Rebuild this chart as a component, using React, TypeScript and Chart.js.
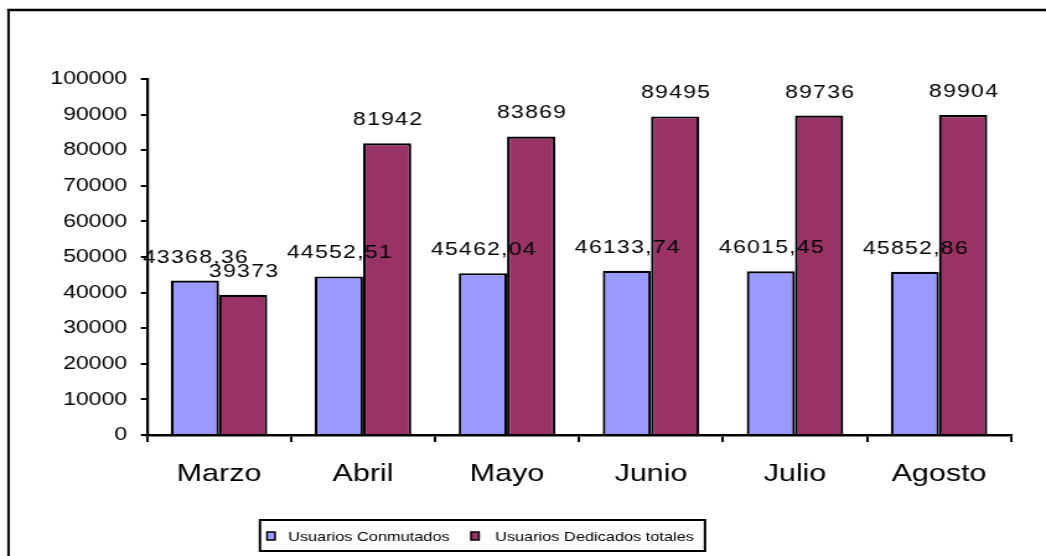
import React, { useEffect, useRef } from "react";
import { Chart, registerables } from "chart.js";

Chart.register(...registerables);

const categories = ["Marzo", "Abril", "Mayo", "Junio", "Julio", "Agosto"];
const conmutados = [43368.36, 44552.51, 45462.04, 46133.74, 46015.45, 45852.86];
const dedicados = [39373, 81942, 83869, 89495, 89736, 89904];
const conmutadosLabels = ["43368,36", "44552,51", "45462,04", "46133,74", "46015,45", "45852,86"];
const dedicadosLabels = ["39373", "81942", "83869", "89495", "89736", "89904"];
const seriesNames = ["Usuarios Conmutados", "Usuarios Dedicados totales"];
const colors = ["#9999FF", "#993366"];
const FONT = "'Liberation Sans', Arial, sans-serif";

// the canvas is drawn narrower and shown stretched horizontally (wide glyphs as in the reference)
const VIEW_W = 1046;
const VIEW_H = 556;
const CANVAS_W = 844;
const SX = VIEW_W / CANVAS_W;
const px = (x: number) => x / SX;

const framePlugin = {
  id: "frame",
  beforeDraw(chart: any) {
    const ctx = chart.ctx;
    ctx.save();
    ctx.fillStyle = "#fff";
    ctx.fillRect(0, 0, chart.width, chart.height);
    ctx.strokeStyle = "#000";
    ctx.lineWidth = px(2.5);
    ctx.beginPath();
    ctx.moveTo(px(8.5), 9);
    ctx.lineTo(px(8.5), chart.height + 5);
    ctx.stroke();
    ctx.lineWidth = 2.5;
    ctx.beginPath();
    ctx.moveTo(px(7.3), 10);
    ctx.lineTo(chart.width + 5, 10);
    ctx.stroke();
    ctx.restore();
  },
};

const labelPlugin = {
  id: "valueLabels",
  afterDatasetsDraw(chart: any) {
    const ctx = chart.ctx;
    ctx.save();
    ctx.font = `18.6px ${FONT}`;
    ctx.letterSpacing = "1px";
    ctx.fillStyle = "#000";
    ctx.textAlign = "center";
    ctx.textBaseline = "alphabetic";
    const lbls = [conmutadosLabels, dedicadosLabels];
    chart.data.datasets.forEach((ds: any, di: number) => {
      const meta = chart.getDatasetMeta(di);
      meta.data.forEach((el: any, i: number) => {
        ctx.fillText(lbls[di][i], el.x + px(1), el.y - 18);
      });
    });
    ctx.restore();
  },
};

const legendPlugin = {
  id: "boxLegend",
  afterDraw(chart: any) {
    const ctx = chart.ctx;
    ctx.save();
    ctx.strokeStyle = "#000";
    ctx.lineWidth = 2;
    ctx.strokeRect(px(260), 520, px(445), 31);
    const xs = [px(267), px(471)];
    const tx = [px(288), px(495)];
    ctx.font = `13.2px ${FONT}`;
    ctx.textBaseline = "middle";
    ctx.textAlign = "left";
    for (let i = 0; i < 2; i++) {
      ctx.fillStyle = colors[i];
      ctx.fillRect(xs[i], 532, px(8), 8);
      ctx.lineWidth = 1.5;
      ctx.strokeRect(xs[i], 532, px(8), 8);
      ctx.fillStyle = "#000";
      ctx.fillText(seriesNames[i], tx[i], 537);
    }
    ctx.restore();
  },
};

export default function App() {
  const ref = useRef<HTMLCanvasElement>(null);
  useEffect(() => {
    if (!ref.current) return;
    const chart = new Chart(ref.current, {
      type: "bar",
      data: {
        labels: categories,
        datasets: [
          {
            label: seriesNames[0],
            data: conmutados,
            backgroundColor: colors[0],
            borderColor: "#000",
            borderWidth: 2.2,
            borderSkipped: "bottom",
          },
          {
            label: seriesNames[1],
            data: dedicados,
            backgroundColor: colors[1],
            borderColor: "#000",
            borderWidth: 2.2,
            borderSkipped: "bottom",
          },
        ],
      },
      options: {
        animation: false,
        responsive: false,
        devicePixelRatio: 1,
        layout: { padding: { top: 79, right: CANVAS_W - px(1011), left: 0, bottom: 0 } },
        datasets: { bar: { categoryPercentage: 0.67, barPercentage: 1 } },
        plugins: { legend: { display: false }, tooltip: { enabled: false } },
        scales: {
          x: {
            grid: {
              display: true,
              drawOnChartArea: false,
              drawTicks: true,
              tickLength: 7,
              color: "#000",
              lineWidth: 2,
              offset: true,
            },
            border: { display: true, color: "#000", width: 2.5 },
            ticks: {
              color: "#000",
              font: { family: FONT, size: 24.6 },
              padding: 17,
              maxRotation: 0,
            },
            afterFit(scale: any) {
              scale.height = 121;
            },
          },
          y: {
            min: 0,
            max: 100000,
            grid: {
              display: true,
              drawOnChartArea: false,
              drawTicks: true,
              tickLength: 5,
              color: "#000",
              lineWidth: 2,
            },
            border: { display: true, color: "#000", width: 2.2 },
            ticks: {
              stepSize: 10000,
              color: "#000",
              font: { family: FONT, size: 18.6 },
              padding: 11,
              callback: (v: any) => String(v),
            },
            afterFit(scale: any) {
              scale.width = px(147);
            },
          },
        },
      },
      plugins: [framePlugin, labelPlugin, legendPlugin],
    });
    return () => chart.destroy();
  }, []);
  return (
    <div style={{ position: "absolute", left: 0, top: 0, width: VIEW_W, height: VIEW_H, overflow: "hidden" }}>
      <canvas
        ref={ref}
        width={CANVAS_W}
        height={VIEW_H}
        style={{ display: "block", width: VIEW_W + "px", height: VIEW_H + "px" }}
      />
    </div>
  );
}
